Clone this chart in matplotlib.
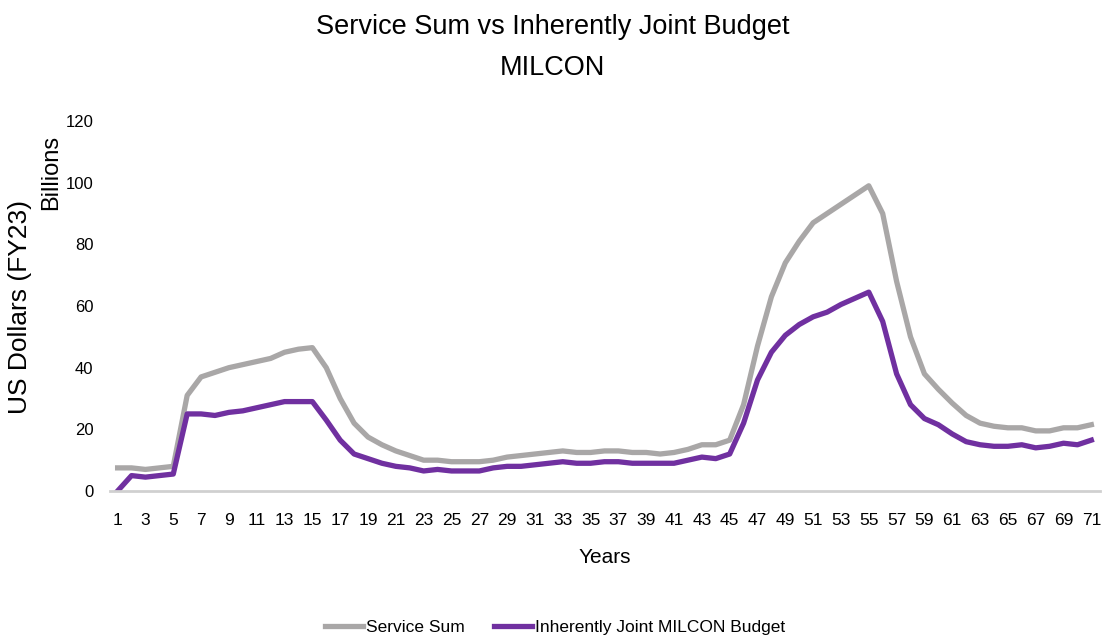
import matplotlib
matplotlib.use("Agg")
import matplotlib.pyplot as plt

# Years 1..71 and the two budget series (billions of FY23 US dollars)
years = list(range(1, 72))

service_sum = [
    7.5, 7.5, 7.0, 7.5, 8.0, 31.0, 37.0, 38.5, 40.0, 41.0,
    42.0, 43.0, 45.0, 46.0, 46.5, 40.0, 30.0, 22.0, 17.5, 15.0,
    13.0, 11.5, 10.0, 10.0, 9.5, 9.5, 9.5, 10.0, 11.0, 11.5,
    12.0, 12.5, 13.0, 12.5, 12.5, 13.0, 13.0, 12.5, 12.5, 12.0,
    12.5, 13.5, 15.0, 15.0, 16.5, 28.0, 47.0, 63.0, 74.0, 81.0,
    87.0, 90.0, 93.0, 96.0, 99.0, 90.0, 68.0, 50.0, 38.0, 33.0,
    28.5, 24.5, 22.0, 21.0, 20.5, 20.5, 19.5, 19.5, 20.5, 20.5,
    21.5,
]

joint_milcon = [
    0.0, 5.0, 4.5, 5.0, 5.5, 25.0, 25.0, 24.5, 25.5, 26.0,
    27.0, 28.0, 29.0, 29.0, 29.0, 23.0, 16.5, 12.0, 10.5, 9.0,
    8.0, 7.5, 6.5, 7.0, 6.5, 6.5, 6.5, 7.5, 8.0, 8.0,
    8.5, 9.0, 9.5, 9.0, 9.0, 9.5, 9.5, 9.0, 9.0, 9.0,
    9.0, 10.0, 11.0, 10.5, 12.0, 22.0, 36.0, 45.0, 50.5, 54.0,
    56.5, 58.0, 60.5, 62.5, 64.5, 55.0, 38.0, 28.0, 23.5, 21.5,
    18.5, 16.0, 15.0, 14.5, 14.5, 15.0, 14.0, 14.5, 15.5, 15.0,
    16.5,
]

y_ticks = [0, 20, 40, 60, 80, 100, 120]
x_tick_labels = [str(y) for y in years[::2]]

FONT = "Liberation Sans"
GRAY = "#A9A7A7"
PURPLE = "#7030A0"

fig = plt.figure(figsize=(11.03, 6.40), dpi=100)
ax = fig.add_axes([0.0997, 0.2328, 0.8973, 0.5781])

ax.plot(years, service_sum, color=GRAY, lw=3.8, solid_joinstyle="round",
        label="Service Sum")
ax.plot(years, joint_milcon, color=PURPLE, lw=3.8, solid_joinstyle="round",
        label="Inherently Joint MILCON Budget")

ax.set_xlim(0.45, 71.6)
ax.set_ylim(0, 120)
ax.set_yticks(y_ticks)
ax.set_xticks(years[::2])
ax.set_xticklabels(x_tick_labels, fontfamily=FONT, fontsize=12.5)
ax.set_yticklabels([str(v) for v in y_ticks], fontfamily=FONT, fontsize=12)
ax.tick_params(axis="both", length=0)
ax.tick_params(axis="x", pad=16)
ax.tick_params(axis="y", pad=12)

for side in ("top", "right", "left"):
    ax.spines[side].set_visible(False)
ax.spines["bottom"].set_color("#D0D0D0")
ax.spines["bottom"].set_linewidth(2)

ax.set_xlabel("Years", fontfamily=FONT, fontsize=15, labelpad=14)

fig.text(0.018, 0.52, "US Dollars (FY23)", rotation=90, ha="center", va="center",
         fontfamily=FONT, fontsize=19)
fig.text(0.046, 0.731, "Billions", rotation=90, ha="center", va="center",
         fontfamily=FONT, fontsize=17)

fig.text(0.501, 0.958, "Service Sum vs Inherently Joint Budget", ha="center",
         va="center", fontfamily=FONT, fontsize=19.5)
fig.text(0.501, 0.893, "MILCON", ha="center", va="center",
         fontfamily=FONT, fontsize=19.5)

fig.legend(loc="center", bbox_to_anchor=(0.503, 0.02), ncol=2, frameon=False,
           prop={"family": FONT, "size": 12.5}, handlelength=2.2,
           handletextpad=0.15, columnspacing=1.7)

fig.savefig("out.png", dpi=100)
